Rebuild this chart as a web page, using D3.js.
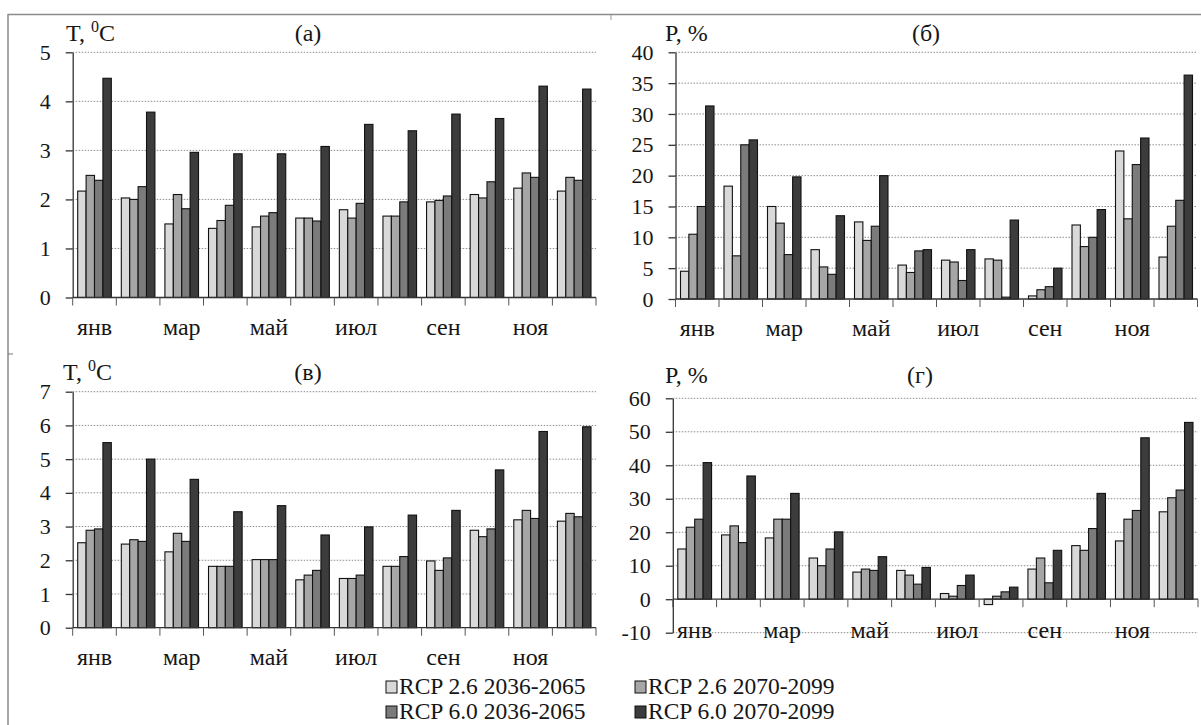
<!DOCTYPE html>
<html>
<head>
<meta charset="utf-8">
<script src="https://cdn.jsdelivr.net/npm/d3@7"></script>
<style>
  body { margin: 0; background: #fff; }
  svg { display: block; }
</style>
</head>
<body>
<svg id="chart" width="1201" height="725"></svg>
<script>
const months = ['янв','фев','мар','апр','май','июн','июл','авг','сен','окт','ноя','дек']
const seriesNames = ['RCP 2.6 2036-2065','RCP 2.6 2070-2099','RCP 6.0 2036-2065','RCP 6.0 2070-2099']
const seriesColors = ['#d9d9d9','#a6a6a6','#7b7b7b','#3c3c3c']

// (а) temperature change
const tA_26mid = [2.17,2.03,1.50,1.41,1.44,1.62,1.79,1.66,1.95,2.10,2.23,2.17]
const tA_26end = [2.49,2.00,2.10,1.57,1.66,1.62,1.62,1.66,1.98,2.03,2.54,2.45]
const tA_60mid = [2.39,2.26,1.81,1.88,1.73,1.56,1.92,1.95,2.07,2.36,2.45,2.39]
const tA_60end = [4.47,3.78,2.96,2.93,2.93,3.08,3.53,3.40,3.74,3.65,4.31,4.25]

// (б) precipitation change
const pB_26mid = [4.5,18.3,15.0,8.0,12.5,5.5,6.3,6.5,0.5,12.0,24.0,6.8]
const pB_26end = [10.5,7.0,12.3,5.2,9.5,4.3,6.0,6.3,1.5,8.5,13.0,11.8]
const pB_60mid = [15.0,25.0,7.2,4.0,11.8,7.8,3.0,0.3,2.0,10.0,21.8,16.0]
const pB_60end = [31.3,25.8,19.8,13.5,20.0,8.0,8.0,12.8,5.0,14.5,26.1,36.3]

// (в) temperature change
const tV_26mid = [2.52,2.48,2.25,1.82,2.02,1.42,1.46,1.82,1.98,2.89,3.20,3.16]
const tV_26end = [2.89,2.61,2.80,1.82,2.02,1.56,1.46,1.82,1.70,2.70,3.48,3.39]
const tV_60mid = [2.93,2.56,2.56,1.82,2.02,1.70,1.56,2.11,2.07,2.93,3.24,3.29]
const tV_60end = [5.49,5.00,4.40,3.44,3.62,2.75,2.99,3.34,3.48,4.68,5.82,5.96]

// (г) precipitation change
const pG_26mid = [15.0,19.2,18.3,12.3,8.1,8.6,1.7,-1.6,9.0,16.0,17.4,26.1]
const pG_26end = [21.5,21.9,23.9,10.0,9.0,7.2,0.9,0.9,12.3,14.6,23.9,30.3]
const pG_60mid = [23.9,16.9,23.9,15.0,8.6,4.5,4.1,2.2,4.9,21.1,26.5,32.6]
const pG_60end = [40.8,36.8,31.6,20.1,12.7,9.5,7.2,3.6,14.6,31.6,48.2,52.8]

const ticksA = [0,1,2,3,4,5]
const ticksB = [0,5,10,15,20,25,30,35,40]
const ticksV = [0,1,2,3,4,5,6,7]
const ticksG = [-10,0,10,20,30,40,50,60]

const svg = d3.select('#chart')

function txt(sel, size){
  return sel.style('font-family', '"Liberation Serif"').style('font-size', size + 'px').style('fill', '#161616')
}

// frame of the figure
svg.append('line').attr('x1', 8).attr('x2', 1201).attr('y1', 14.5).attr('y2', 14.5)
  .attr('stroke', '#8a8a8a').attr('stroke-width', 1.5)
svg.append('line').attr('x1', 8).attr('x2', 8).attr('y1', 14).attr('y2', 725)
  .attr('stroke', '#8a8a8a').attr('stroke-width', 1.5)
svg.append('line').attr('x1', 8).attr('x2', 13).attr('y1', 354).attr('y2', 354)
  .attr('stroke', '#777')
svg.append('line').attr('x1', 611).attr('x2', 611).attr('y1', 15).attr('y2', 20)
  .attr('stroke', '#999')

function drawPanel(p){
  const g = svg.append('g')
  const x = d3.scaleBand().domain(months).range([p.left, p.right]).padding(0)
  const xs = d3.scaleBand().domain(d3.range(4)).range([5, x.bandwidth() - 5])
  const y = d3.scaleLinear().domain([p.ticks[0], p.ticks[p.ticks.length - 1]]).range([p.bottom, p.top])

  // dotted gridlines
  g.selectAll('.grid').data(p.ticks.filter(t => t !== 0)).enter()
    .append('line')
      .attr('x1', p.left).attr('x2', p.right)
      .attr('y1', d => y(d)).attr('y2', d => y(d))
      .attr('stroke', '#8c8c8c').attr('stroke-width', 1)
      .attr('stroke-dasharray', '1.5,1.5')

  // bars
  p.data.forEach((vals, s) => {
    g.selectAll('.bar' + s).data(vals).enter()
      .append('rect')
        .attr('x', (d, i) => x(months[i]) + xs(s))
        .attr('width', xs.bandwidth())
        .attr('y', d => y(Math.max(0, d)))
        .attr('height', d => Math.abs(y(d) - y(0)))
        .attr('fill', seriesColors[s])
        .attr('stroke', '#111').attr('stroke-width', 1.1)
  })

  // value axis
  const ya = g.append('g').attr('transform', `translate(${p.left},0)`)
    .call(d3.axisLeft(y).tickValues(p.ticks).tickFormat(d => String(d))
      .tickSize(7).tickSizeOuter(0).tickPadding(15))
  ya.select('.domain').attr('stroke', '#333').attr('stroke-width', 1.3)
  ya.selectAll('.tick line').attr('stroke', '#333').attr('stroke-width', 1.3)
  txt(ya.selectAll('.tick text'), 22)

  // category axis at zero
  g.append('line').attr('x1', p.left).attr('x2', p.right)
    .attr('y1', y(0)).attr('y2', y(0)).attr('stroke', '#333').attr('stroke-width', 1.3)
  const edges = months.map(m => x(m)).concat([x.range()[1]])
  g.selectAll('.ctick').data(edges).enter()
    .append('line')
      .attr('x1', d => d).attr('x2', d => d)
      .attr('y1', y(0)).attr('y2', y(0) + 8)
      .attr('stroke', '#555').attr('stroke-width', 1)
  txt(g.selectAll('.clabel').data(months.filter((m, i) => i % 2 === 0)).enter()
    .append('text')
      .attr('x', d => x(d) + x.bandwidth() / 2)
      .attr('y', p.labelY)
      .attr('text-anchor', 'middle')
      .text(d => d), 24)

  // axis title and panel letter
  const t = txt(g.append('text').attr('x', p.titleX).attr('y', p.titleY), 24)
  if (p.unit === 'T') {
    t.append('tspan').text('T, ')
    t.append('tspan').style('font-size', '16px').attr('dy', -9).text('0')
    t.append('tspan').attr('dy', 9).text('C')
  } else {
    t.text('P, %')
  }
  txt(g.append('text').attr('x', p.letterX).attr('y', p.titleY)
    .attr('text-anchor', 'middle').text(p.letter), 24)
}

drawPanel({left: 72.7, right: 596, top: 52.3, bottom: 297.5, ticks: ticksA,
  data: [tA_26mid, tA_26end, tA_60mid, tA_60end], labelY: 335,
  unit: 'T', titleX: 66, titleY: 41, letter: '(а)', letterX: 308})
drawPanel({left: 675.5, right: 1197.5, top: 52.3, bottom: 299, ticks: ticksB,
  data: [pB_26mid, pB_26end, pB_60mid, pB_60end], labelY: 336,
  unit: 'P', titleX: 665, titleY: 41, letter: '(б)', letterX: 926})
drawPanel({left: 72.7, right: 596, top: 391.7, bottom: 627.7, ticks: ticksV,
  data: [tV_26mid, tV_26end, tV_60mid, tV_60end], labelY: 665,
  unit: 'T', titleX: 63, titleY: 380, letter: '(в)', letterX: 308})
drawPanel({left: 672.8, right: 1198, top: 398.3, bottom: 632.7, ticks: ticksG,
  data: [pG_26mid, pG_26end, pG_60mid, pG_60end], labelY: 638,
  unit: 'P', titleX: 665, titleY: 383, letter: '(г)', letterX: 920})

// legend
const legendPos = [[386, 694], [635, 694], [386, 719], [635, 719]]
seriesNames.forEach((name, i) => {
  const lg = svg.append('g').attr('transform', `translate(${legendPos[i][0]},${legendPos[i][1]})`)
  lg.append('rect').attr('x', 0).attr('y', -13).attr('width', 11).attr('height', 12)
    .attr('fill', seriesColors[i]).attr('stroke', '#111').attr('stroke-width', 1)
  txt(lg.append('text').attr('x', 13).attr('y', 0).text(name), 23.5)
})
</script>
</body>
</html>
